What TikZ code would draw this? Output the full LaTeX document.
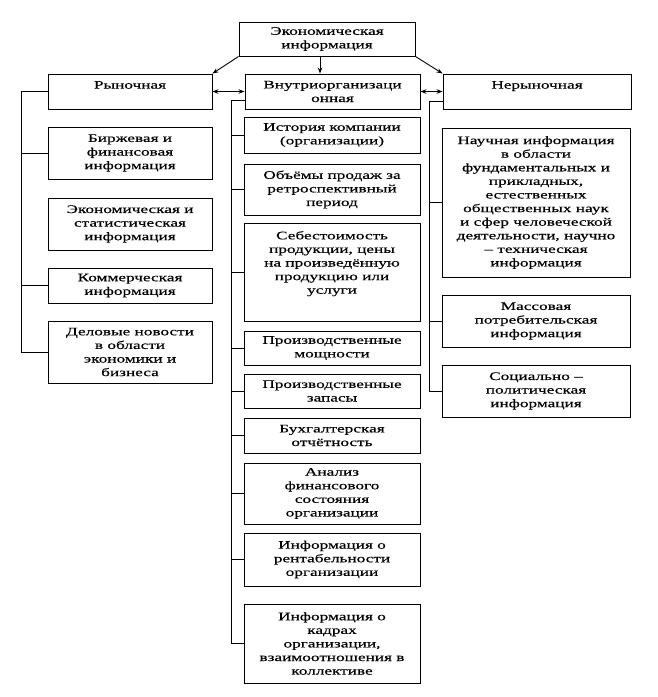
\documentclass[tikz,border=0pt]{standalone}
\usepackage{fontspec}
\setmainfont{Liberation Serif}[FakeStretch=1.5,FakeBold=0.4]
\usetikzlibrary{arrows.meta}
\begin{document}
\begin{tikzpicture}[x=1pt,y=-1pt,
  box/.style={draw, line width=0.9pt, inner sep=2pt, align=center, font=\fontsize{11.5}{13.6}\selectfont},
  conn/.style={line width=0.9pt},
  arr/.style={line width=0.9pt, -{Stealth[length=6pt,width=4.5pt]}},
  darr/.style={line width=0.9pt, {Stealth[length=6pt,width=4.5pt]}-{Stealth[length=6pt,width=4.5pt]}},
  lbl/.style={font=\fontsize{11.5}{13.6}\selectfont, align=center}]
\useasboundingbox[fill=white] (0,0) rectangle (657,697);

% top
\node[box, minimum width=176pt, minimum height=34pt] (top) at (327,39) {Экономическая\\информация};

% second level
\node[box, minimum width=164pt, minimum height=35pt] (ryn) at (130,91.5) {};
\node[lbl, anchor=north] (rynt) at ([yshift=-4pt]ryn.north) {Рыночная};
\node[box, minimum width=175pt, minimum height=35pt] (vnu) at (332.5,91.5) {Внутриорганизаци\\онная};
\node[box, minimum width=188pt, minimum height=35pt] (ner) at (537,91.5) {};
\node[lbl, anchor=north] (nert) at ([yshift=-4pt]ner.north) {Нерыночная};

% left column
\node[box, minimum width=164pt, minimum height=52pt] (birzh) at (130,153) {Биржевая и\\финансовая\\информация};
\node[box, minimum width=164pt, minimum height=52pt] (ekstat) at (130,224) {Экономическая и\\статистическая\\информация};
\node[box, minimum width=164pt, minimum height=35pt] (kom) at (130,285.5) {Коммерческая\\информация};
\node[box, minimum width=164pt, minimum height=62pt] (delo) at (130,352) {Деловые новости\\в области\\экономики и\\бизнеса};

% middle column
\node[box, minimum width=176pt, minimum height=36pt] (ist) at (332,135) {История компании\\(организации)};
\node[box, minimum width=176pt, minimum height=51pt] (obj) at (332,189.5) {Объёмы продаж за\\ретроспективный\\период};
\node[box, minimum width=176pt, minimum height=98pt] (seb) at (332,272) {};
\node[lbl, anchor=north] (sebt) at ([yshift=-5pt]seb.north) {Себестоимость\\продукции, цены\\на произведённую\\продукцию или\\услуги};
\node[box, minimum width=176pt, minimum height=34pt] (pmosh) at (332,348) {Производственные\\мощности};
\node[box, minimum width=176pt, minimum height=34pt] (pzap) at (332,391) {Производственные\\запасы};
\node[box, minimum width=176pt, minimum height=35pt] (buh) at (332,435.5) {Бухгалтерская\\отчётность};
\node[box, minimum width=176pt, minimum height=61pt] (anal) at (332,493.5) {Анализ\\финансового\\состояния\\организации};
\node[box, minimum width=176pt, minimum height=53pt] (rent) at (332,559.5) {Информация о\\рентабельности\\организации};
\node[box, minimum width=176pt, minimum height=79pt] (kadr) at (332,643.5) {Информация о\\кадрах\\организации,\\взаимоотношения в\\коллективе};

% right column
\node[box, minimum width=188pt, minimum height=149pt] (nauch) at (536,202.5) {Научная информация\\в области\\фундаментальных и\\прикладных,\\естественных\\общественных наук\\и сфер человеческой\\деятельности, научно\\– техническая\\информация};
\node[box, minimum width=188pt, minimum height=52pt] (mass) at (536,321) {Массовая\\потребительская\\информация};
\node[box, minimum width=188pt, minimum height=52pt] (soc) at (536,391) {Социально –\\политическая\\информация};

% arrows from top
\draw[arr] (top.south west) -- (ryn.north east);
\draw[arr] ([xshift=-7pt]top.south) -- ([xshift=-7pt]top.south |- vnu.north);
\draw[arr] (top.south east) -- (ner.north west);
\draw[darr] (ryn.east) -- (vnu.west);
\draw[darr] (vnu.east) -- (ner.west);

% left trunk
\coordinate (lt) at ([xshift=-26pt]ryn.west);
\draw[conn] (ryn.west) -- (lt) |- (delo.west);
\draw[conn] (birzh.west) -- (birzh.west -| lt);
\draw[conn] (kom.west) -- (kom.west -| lt);

% middle trunk
\coordinate (ms) at ([yshift=-8.5pt]vnu.west);
\coordinate (mt) at ([xshift=-13pt]ms);
\draw[conn] (ms) -- (mt) |- (kadr.west);
\foreach \n in {ist,obj,seb,pmosh,pzap,buh,anal,rent}
  \draw[conn] (\n.west) -- (\n.west -| mt);

% right trunk
\coordinate (rs) at ([yshift=-9.5pt]ner.west);
\coordinate (rt) at ([xshift=-13pt]rs);
\draw[conn] (rs) -- (rt) |- (soc.west);
\draw[conn] (nauch.west) -- (nauch.west -| rt);
\draw[conn] (mass.west) -- (mass.west -| rt);
\end{tikzpicture}
\end{document}
